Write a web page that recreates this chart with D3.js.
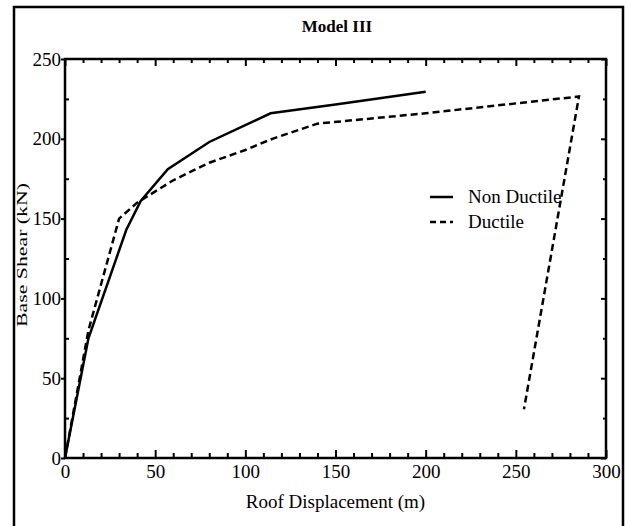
<!DOCTYPE html>
<html>
<head>
<meta charset="utf-8">
<script src="https://cdn.jsdelivr.net/npm/d3@7"></script>
<style>
  body { margin: 0; background: #fff; }
</style>
</head>
<body>
<div id="chart"></div>
<script>
// data: roof displacement (m) vs base shear (kN)
var nonDuctileX = [0, 13, 34, 42, 57, 80, 114, 150, 200];
var nonDuctileY = [0, 75, 143, 161, 181, 198, 216, 221.5, 229.5];

var ductileX = [0, 13, 30, 40, 60, 80, 100, 115, 140, 200, 285, 254.5];
var ductileY = [0, 80, 150, 160, 174, 185, 193, 200, 209.5, 216, 226.5, 30.5];

var xMajorTicks = [0, 50, 100, 150, 200, 250, 300];
var yMajorTicks = [0, 50, 100, 150, 200, 250];

var seriesNames = ["Non Ductile", "Ductile"];

var serifFont = "'Liberation Serif', 'Times New Roman', 'DejaVu Serif', serif";

// svg size and plot margins
var svgWidth = 627;
var svgHeight = 526;

var margin = {
  top: 59,
  right: 21,
  bottom: 68,
  left: 65
};

var width = svgWidth - margin.left - margin.right;
var height = svgHeight - margin.top - margin.bottom;

var svg = d3.select("#chart")
  .append("svg")
  .attr("width", svgWidth)
  .attr("height", svgHeight)
  .style("font-family", serifFont);

// outer frame of the figure (runs off the bottom of the picture)
svg.append("path")
  .attr("d", "M14,540 L14,7 L623,7 L623,540")
  .attr("fill", "none")
  .attr("stroke", "#000")
  .attr("stroke-width", 2.5);

var chartGroup = svg.append("g")
  .attr("transform", `translate(${margin.left}, ${margin.top})`);

// scales
var xLinearScale = d3.scaleLinear().domain([0, 300]).range([0, width]);
var yLinearScale = d3.scaleLinear().domain([0, 250]).range([height, 0]);

// minor tick values
var xMinorTicks = d3.range(0, 301, 10).filter(d => d % 50 !== 0);
var yMinorTicks = d3.range(25, 250, 50);

function noDomain(g) {
  g.select(".domain").remove();
}

function tickStyle(g) {
  g.attr("font-family", null).attr("font-size", null);
  g.selectAll("line").attr("stroke", "#000").attr("stroke-width", 2);
  g.selectAll("text")
    .style("font-family", serifFont)
    .style("font-size", "19px")
    .attr("fill", "#000");
}

// bottom axis
chartGroup.append("g")
  .attr("transform", `translate(0, ${height})`)
  .call(d3.axisBottom(xLinearScale).tickValues(xMajorTicks).tickSizeInner(-8).tickSizeOuter(0).tickPadding(7))
  .call(noDomain).call(tickStyle);

chartGroup.append("g")
  .attr("transform", `translate(0, ${height})`)
  .call(d3.axisBottom(xLinearScale).tickValues(xMinorTicks).tickSizeInner(-5).tickSizeOuter(0).tickFormat(""))
  .call(noDomain).call(tickStyle);

// top axis (ticks only)
chartGroup.append("g")
  .call(d3.axisTop(xLinearScale).tickValues(xMajorTicks).tickSizeInner(-7).tickSizeOuter(0).tickFormat(""))
  .call(noDomain).call(tickStyle);

chartGroup.append("g")
  .call(d3.axisTop(xLinearScale).tickValues(xMinorTicks).tickSizeInner(-4).tickSizeOuter(0).tickFormat(""))
  .call(noDomain).call(tickStyle);

// left axis
chartGroup.append("g")
  .call(d3.axisLeft(yLinearScale).tickValues(yMajorTicks).tickSizeInner(4).tickSizeOuter(0).tickPadding(0))
  .call(noDomain).call(tickStyle);

chartGroup.append("g")
  .call(d3.axisLeft(yLinearScale).tickValues(yMinorTicks).tickSizeInner(-4).tickSizeOuter(0).tickFormat(""))
  .call(noDomain).call(tickStyle);

// right axis (ticks only)
chartGroup.append("g")
  .attr("transform", `translate(${width}, 0)`)
  .call(d3.axisRight(yLinearScale).tickValues(yMajorTicks).tickSizeInner(-5).tickSizeOuter(0).tickFormat(""))
  .call(noDomain).call(tickStyle);

chartGroup.append("g")
  .attr("transform", `translate(${width}, 0)`)
  .call(d3.axisRight(yLinearScale).tickValues(yMinorTicks).tickSizeInner(-3).tickSizeOuter(0).tickFormat(""))
  .call(noDomain).call(tickStyle);

// plot box
chartGroup.append("rect")
  .attr("x", 0)
  .attr("y", 0)
  .attr("width", width)
  .attr("height", height)
  .attr("fill", "none")
  .attr("stroke", "#000")
  .attr("stroke-width", 2.5);

// curves
var line = d3.line()
  .x(d => xLinearScale(d[0]))
  .y(d => yLinearScale(d[1]));

var nonDuctile = nonDuctileX.map((x, i) => [x, nonDuctileY[i]]);
var ductile = ductileX.map((x, i) => [x, ductileY[i]]);

chartGroup.append("path")
  .datum(ductile)
  .attr("d", line)
  .attr("fill", "none")
  .attr("stroke", "#000")
  .attr("stroke-width", 2.5)
  .attr("stroke-dasharray", "7,4");

chartGroup.append("path")
  .datum(nonDuctile)
  .attr("d", line)
  .attr("fill", "none")
  .attr("stroke", "#000")
  .attr("stroke-width", 2.5);

// legend
var legend = svg.append("g").attr("transform", "translate(430, 197)");

seriesNames.forEach(function(name, i) {
  legend.append("line")
    .attr("x1", 0)
    .attr("x2", 23)
    .attr("y1", i * 25)
    .attr("y2", i * 25)
    .attr("stroke", "#000")
    .attr("stroke-width", 2.5)
    .attr("stroke-dasharray", i === 0 ? null : "6,4");

  legend.append("text")
    .attr("x", 38)
    .attr("y", i * 25 + 6)
    .style("font-family", serifFont)
    .style("font-size", "19px")
    .text(name);
});

// title
svg.append("text")
  .attr("x", 337)
  .attr("y", 32)
  .attr("text-anchor", "middle")
  .style("font-family", serifFont)
  .style("font-size", "17px")
  .style("font-weight", "bold")
  .text("Model III");

// x axis label
svg.append("text")
  .attr("x", margin.left + width / 2)
  .attr("y", 508)
  .attr("text-anchor", "middle")
  .style("font-family", serifFont)
  .style("font-size", "19px")
  .text("Roof Displacement (m)");

// y axis label
svg.append("text")
  .attr("transform", "rotate(-90)")
  .attr("x", -255)
  .attr("y", 27)
  .attr("text-anchor", "middle")
  .attr("textLength", 144)
  .attr("lengthAdjust", "spacingAndGlyphs")
  .style("font-family", serifFont)
  .style("font-size", "15px")
  .text("Base Shear (kN)");
</script>
</body>
</html>
